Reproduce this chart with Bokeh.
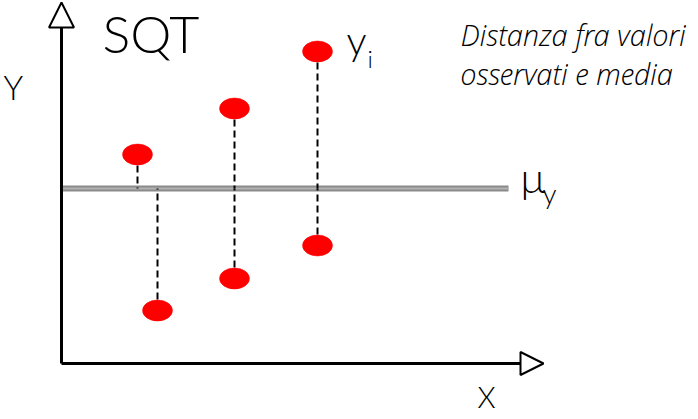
from bokeh.plotting import figure
from bokeh.models import Range1d, Arrow, NormalHead, ColumnDataSource
from bokeh.core.properties import value
from bokeh.embed import file_html
from bokeh.resources import INLINE

# Observed values (schematic units, origin at the axes' corner)
obs_x = [76, 96, 173, 173, 256, 256]
obs_y = [209, 53, 255, 85, 312, 118]
mean_y = 175

# Text labels
title_text = "SQT"
y_label = "Y"
x_label = "X"
note_lines = ["Distanza fra valori", "osservati e media"]

FONT = value("Lato Light")
NOTE_FONT = value("Open Sans Light")

p = figure(width=698, height=419,
           x_range=Range1d(-61, 637), y_range=Range1d(-56, 363),
           x_axis_type=None, y_axis_type=None,
           output_backend="svg", toolbar_location=None, min_border=0)
p.grid.visible = False
p.outline_line_color = None
p.background_fill_color = "white"
p.border_fill_color = "white"

# mean line (grey, double-toned)
p.segment(x0=[1], x1=[447], y0=[mean_y], y1=[mean_y], line_width=6, line_color="#8a8a8a")
p.segment(x0=[1], x1=[447], y0=[mean_y], y1=[mean_y], line_width=2, line_color="#b2b2b2")

# dashed distances
src = ColumnDataSource(dict(x=obs_x, y=obs_y, m=[mean_y] * len(obs_y)))
p.segment(x0="x", y0="y", x1="x", y1="m", source=src,
          line_dash="7 4", line_width=2, line_color="black")

# observations
p.ellipse(x="x", y="y", width=30, height=21, source=src,
          fill_color="#ff0000", line_color="#ff0000", line_width=0.5)

# axes with open triangular heads
p.add_layout(Arrow(end=NormalHead(size=25, fill_color="white", line_color="black", line_width=2),
                   x_start=0, y_start=0, x_end=0, y_end=361, line_width=3, line_color="black"))
p.add_layout(Arrow(end=NormalHead(size=23, fill_color="white", line_color="black", line_width=2),
                   x_start=0, y_start=0, x_end=482, y_end=0, line_width=3, line_color="black"))

# labels
p.text(x=[41], y=[331], text=[title_text], text_font=FONT, text_font_size="52px",
       text_color="black", text_baseline="alphabetic", text_align="left")
p.text(x=[-58], y=[277], text=[y_label], text_font=FONT, text_font_size="33px",
       text_color="black", text_baseline="alphabetic", text_align="left")
p.text(x=[416], y=[-33], text=[x_label], text_font=FONT, text_font_size="29px",
       text_color="black", text_baseline="alphabetic", text_align="left")
p.text(x=[285], y=[324], text=["y"], text_font=FONT, text_font_size="40px",
       text_color="black", text_baseline="alphabetic", text_align="left")
p.text(x=[306], y=[305], text=["i"], text_font=FONT, text_font_size="24px",
       text_color="black", text_baseline="alphabetic", text_align="left")
p.text(x=[459], y=[187], text=["\u03bc"], text_font=FONT, text_font_size="42px",
       text_color="black", text_baseline="alphabetic", text_align="left")
p.text(x=[481], y=[171], text=["y"], text_font=FONT, text_font_size="28px",
       text_color="black", text_baseline="alphabetic", text_align="left")
p.text(x=[399, 399], y=[329, 290], text=note_lines, text_font=NOTE_FONT, text_font_size="29px",
       text_font_style="italic", text_color="black", text_baseline="alphabetic", text_align="left")

open("out.html", "w").write(file_html(p, INLINE))
